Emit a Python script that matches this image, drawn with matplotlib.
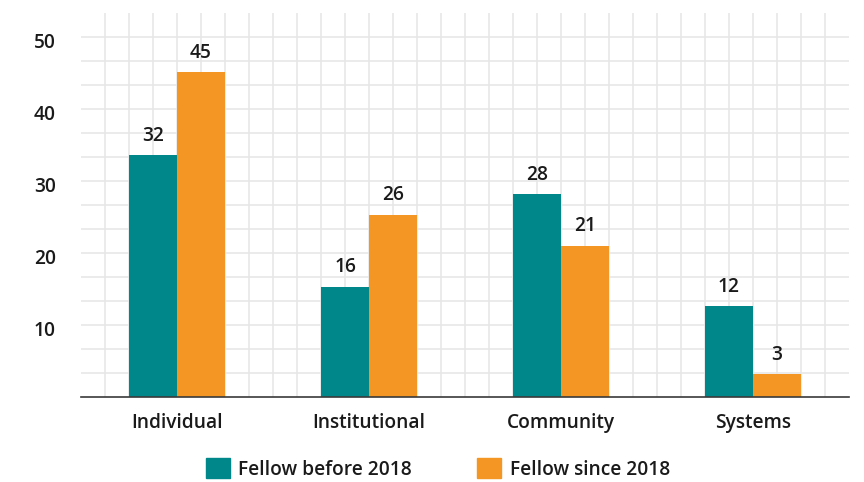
import matplotlib
matplotlib.use("Agg")
import matplotlib.pyplot as plt
import matplotlib.transforms as mtransforms
import numpy as np
from matplotlib.patches import Patch

categories = ["Individual", "Institutional", "Community", "Systems"]
before_2018 = [33.6, 15.3, 28.2, 12.6]
since_2018 = [45.1, 25.3, 21.0, 3.2]
before_labels = ["32", "16", "28", "12"]
since_labels = ["45", "26", "21", "3"]
y_ticks = [10, 20, 30, 40, 50]
series_names = ["Fellow before 2018", "Fellow since 2018"]

TEAL = "#00878a"
ORANGE = "#f39623"
TEXT = "#1a1a1a"
FONT = ["Open Sans", "DejaVu Sans"]
FS = 13.8

plt.rcParams["font.family"] = FONT

fig = plt.figure(figsize=(8.64, 4.82), dpi=100)
ax = fig.add_axes([81/864, 1-397/482, 768/864, 384/482])

x = np.arange(len(categories))
w = 0.25
b1 = ax.bar(x - w/2, before_2018, w, color=TEAL, zorder=3)
b2 = ax.bar(x + w/2, since_2018, w, color=ORANGE, zorder=3)

for bars, labels in ((b1, before_labels), (b2, since_labels)):
    for rect, lab in zip(bars, labels):
        ax.annotate(lab, (rect.get_x() + rect.get_width()/2, rect.get_height()),
                    xytext=(0, 14), textcoords="offset points",
                    ha="center", va="center", fontsize=FS,
                    fontweight="semibold", color=TEXT)

ax.set_xlim(-0.5, len(categories) - 0.5)
ax.set_ylim(0, 50 + 10/3)

# grid
for k in range(1, 32):
    ax.axvline(-0.5 + k*0.125, color="#e6e6e6", lw=1.1, zorder=1)
for k in range(1, 16):
    ax.axhline(k*10/3, color="#e6e6e6", lw=1.1, zorder=1)

for s in ["top", "right", "left"]:
    ax.spines[s].set_visible(False)
ax.spines["bottom"].set_color("#3a3a3a")
ax.spines["bottom"].set_linewidth(1.2)
ax.spines["bottom"].set_zorder(4)

ax.set_yticks(y_ticks)
ax.set_yticklabels([])
ax.tick_params(axis="y", length=0)
# y tick labels, centred in the left margin
trans = mtransforms.blended_transform_factory(fig.transFigure, ax.transData)
offset = mtransforms.ScaledTranslation(0, -4/72, fig.dpi_scale_trans)
for v in y_ticks:
    ax.text(45/864, v, str(v), transform=trans + offset, ha="center", va="center",
            fontsize=FS, fontweight="semibold", color=TEXT)

ax.set_xticks(x)
ax.set_xticklabels(categories)
ax.tick_params(axis="x", length=0, pad=11.5, labelsize=FS, labelcolor=TEXT)
for t in ax.get_xticklabels():
    t.set_fontweight("semibold")

handles = [Patch(color=TEAL, label=series_names[0]),
           Patch(color=ORANGE, label=series_names[1])]
leg = fig.legend(handles=handles, loc="center", bbox_to_anchor=(438/864, 1-469/482),
                 ncol=2, frameon=False, handlelength=1.25,
                 handleheight=1.25, handletextpad=0.45, columnspacing=3.4,
                 prop={"weight": "semibold", "size": FS, "family": FONT})
for t in leg.get_texts():
    t.set_color(TEXT)

fig.savefig("out.png", dpi=100)
